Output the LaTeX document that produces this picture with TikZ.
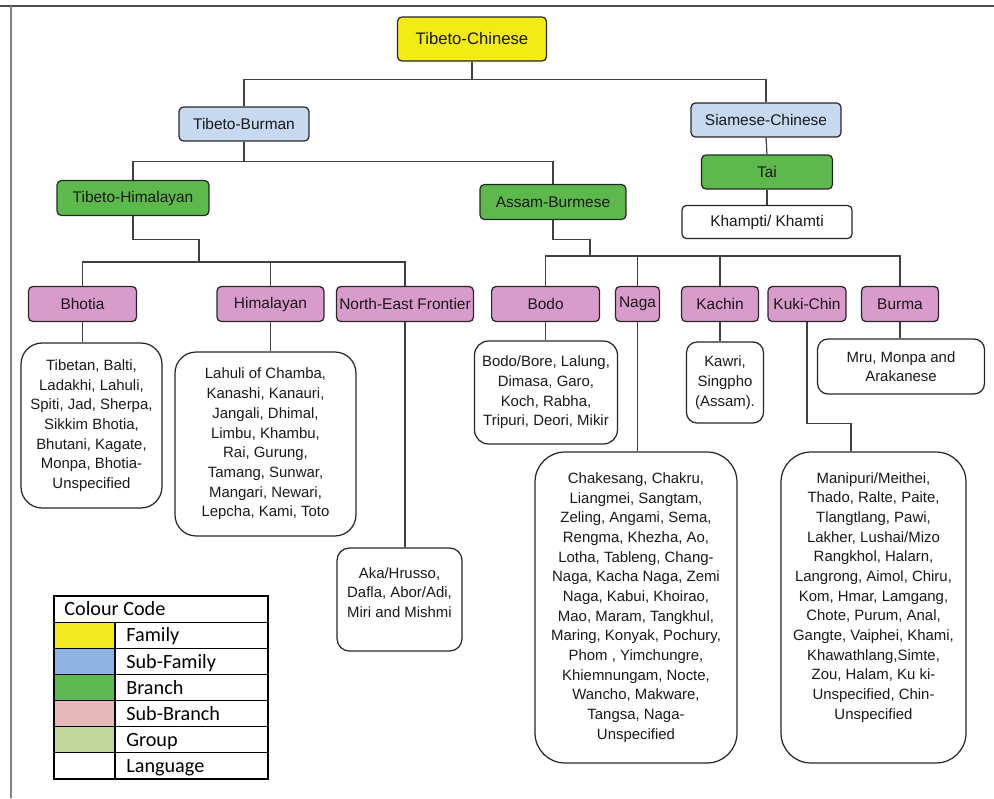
\documentclass[tikz,border=0pt]{standalone}
\usepackage{fontspec}
\setmainfont{Liberation Sans}
\newfontfamily\keyfont{Carlito}
\usetikzlibrary{positioning}

\definecolor{famyellow}{RGB}{243,235,20}
\definecolor{subfamblue}{RGB}{198,217,241}
\definecolor{branchgreen}{RGB}{94,185,76}
\definecolor{subbrpink}{RGB}{217,155,203}
\definecolor{famkey}{RGB}{242,234,30}
\definecolor{subfamkey}{RGB}{141,180,226}
\definecolor{branchkey}{RGB}{93,183,82}
\definecolor{subbrkey}{RGB}{230,185,184}
\definecolor{groupkey}{RGB}{196,215,155}

\begin{document}
\begin{tikzpicture}[x=0.02cm, y=-0.02cm,
  box/.style={draw=black!85, line width=0.7pt, rounded corners=2.5pt, align=center,
    inner sep=1pt, text=black!90, font=\fontsize{8.8}{11}\selectfont},
  family/.style={box, fill=famyellow},
  subfam/.style={box, fill=subfamblue},
  branch/.style={box, fill=branchgreen},
  subbranch/.style={box, fill=subbrpink, minimum height=0.7cm},
  langbox/.style={box, fill=white},
  langlist/.style={draw=black!85, line width=0.7pt, rounded corners=8pt, align=center,
    inner sep=1pt, text=black!90, font=\fontsize{8.5}{11.2}\selectfont},
  listtext/.style={align=center, inner sep=0pt, text=black!90, font=\fontsize{8.5}{11.2}\selectfont},
  link/.style={draw=black!75, line width=0.7pt},
  keyline/.style={draw=black, line width=0.6pt},
  keytext/.style={anchor=base west, inner sep=0pt, font=\keyfont\fontsize{11.5}{13}\selectfont}]

\useasboundingbox (0,0) rectangle (994,798);
\draw[black!70, line width=1.2pt] (0,6) -- (994,6);
\draw[black!50, line width=0.9pt] (11,6) -- (11,798);

% family, sub-families and branches
\node[family, minimum width=2.98cm, minimum height=0.88cm, font=\fontsize{9.5}{11}\selectfont] (tc) at (472,39) {Tibeto-Chinese};
\node[subfam, minimum width=2.6cm, minimum height=0.68cm] (tb) at (244,124) {Tibeto-Burman};
\node[subfam, minimum width=3cm, minimum height=0.68cm] (sc) at (766,120) {Siamese-Chinese};
\node[branch, minimum width=2.62cm, minimum height=0.68cm] (tai) at (767,172) {Tai};
\node[langbox, minimum width=3.4cm, minimum height=0.66cm] (kh) at (767,222) {Khampti/ Khamti};
\node[branch, minimum width=3.04cm, minimum height=0.7cm] (th) at (133,198) {Tibeto-Himalayan};
\node[branch, minimum width=2.92cm, minimum height=0.7cm] (ab) at (553,202) {Assam-Burmese};

% sub-branches
\foreach \n/\x/\w/\t in {bhotia/82.5/2.16/Bhotia, him/270.5/2.14/Himalayan,
    nef/405/2.74/North-East Frontier, bodo/545.6/2.16/Bodo, naga/637.5/0.88/Naga,
    kachin/720/1.54/Kachin, kuki/807/1.56/Kuki-Chin, burma/900/1.54/Burma}
  \node[subbranch, minimum width=\w cm] (\n) at (\x,304) {\t};

% languages
\node[langlist, rounded corners=12pt, minimum width=2.82cm, minimum height=3.3cm] (lbhotia) at (91.5,425.5)
  {Tibetan, Balti,\\Ladakhi, Lahuli,\\Spiti, Jad, Sherpa,\\Sikkim Bhotia,\\Bhutani, Kagate,\\Monpa, Bhotia-\\Unspecified};
\node[langlist, rounded corners=12pt, minimum width=3.62cm, minimum height=3.68cm] (lhim) at (265.5,444)
  {Lahuli of Chamba,\\Kanashi, Kanauri,\\Jangali, Dhimal,\\Limbu, Khambu,\\Rai, Gurung,\\Tamang, Sunwar,\\Mangari, Newari,\\Lepcha, Kami, Toto};
\node[langlist, rounded corners=7pt, minimum width=2.5cm, minimum height=2.06cm] (lnef) at (399.5,599.5) {};
\node[listtext, below=0.39cm of lnef.north] {Aka/Hrusso,\\Dafla, Abor/Adi,\\Miri and Mishmi};
\node[langlist, minimum width=2.86cm, minimum height=2.06cm] (lbodo) at (546,392.5)
  {Bodo/Bore, Lalung,\\Dimasa, Garo,\\Koch, Rabha,\\Tripuri, Deori, Mikir};
\node[langlist, rounded corners=6pt, minimum width=1.54cm, minimum height=1.62cm] (lkachin) at (725,382.5)
  {Kawri,\\Singpho\\(Assam).};
\node[langlist, rounded corners=6pt, minimum width=3.34cm, minimum height=1.1cm] (lburma) at (901,366.5)
  {Mru, Monpa and\\Arakanese};
\node[langlist, rounded corners=17pt, minimum width=4.04cm, minimum height=6.22cm] (lnaga) at (636,607.5)
  {Chakesang, Chakru,\\Liangmei, Sangtam,\\Zeling, Angami, Sema,\\Rengma, Khezha, Ao,\\Lotha, Tableng, Chang-\\Naga, Kacha Naga, Zemi\\Naga, Kabui, Khoirao,\\Mao, Maram, Tangkhul,\\Maring, Konyak, Pochury,\\Phom , Yimchungre,\\Khiemnungam, Nocte,\\Wancho, Makware,\\Tangsa, Naga-\\Unspecified};
\node[langlist, rounded corners=17pt, minimum width=3.7cm, minimum height=6.22cm] (lkuki) at (873.5,607.5) {};
\node[listtext, below=0.41cm of lkuki.north]
  {Manipuri/Meithei,\\Thado, Ralte, Paite,\\Tlangtlang, Pawi,\\Lakher, Lushai/Mizo\\Rangkhol, Halarn,\\Langrong, Aimol, Chiru,\\Kom, Hmar, Lamgang,\\Chote, Purum, Anal,\\Gangte, Vaiphei, Khami,\\Khawathlang,Simte,\\Zou, Halam, Ku ki-\\Unspecified, Chin-\\Unspecified};

% connectors
\draw[link] (tc.south) -- ++(0,18) coordinate (tcbus);
\draw[link] (tb.north) |- (tcbus) -| (sc.north);
\draw[link] (tb.south) -- ++(0,20) coordinate (tbbus);
\draw[link] (th.north) |- (tbbus) -| (ab.north);
\draw[link] (sc.south) -- (tai.north);
\draw[link] (tai.south) -- (kh.north);
\draw[link] (th.south) -- ++(0,23) -| ++(66,24);
\draw[link] (bhotia.north) -- ++(0,-24) -| (nef.north);
\draw[link] (him.north) -- ++(0,-24);
\draw[link] (ab.south) -- ++(0,19) -| ++(37,18);
\draw[link] (bodo.north) -- ++(0,-30) -| (burma.north);
\draw[link] (naga.north) -- ++(0,-30);
\draw[link] (kachin.north) -- ++(0,-30);
\foreach \a in {bhotia, him, nef, bodo, naga, kachin, burma}
  \draw[link] (\a.south) -- (\a.south |- l\a.north);
\draw[link] (kuki.south) -- ++(0,101) -| (lkuki.north -| 851,0);

% colour code
\draw[keyline] (54,596) rectangle (268,622.14);
\node[keytext] at (64,615.8) {Colour Code};
\foreach \c/\t [count=\i] in {famkey/Family, subfamkey/Sub-Family, branchkey/Branch,
    subbrkey/Sub-Branch, groupkey/Group, white/Language}
{
  \filldraw[keyline, fill=\c] (54,{596+26.14*\i}) rectangle (115,{622.14+26.14*\i});
  \draw[keyline] (115,{596+26.14*\i}) rectangle (268,{622.14+26.14*\i});
  \node[keytext] at (126,{615.8+26.14*\i}) {\t};
}
\end{tikzpicture}
\end{document}
